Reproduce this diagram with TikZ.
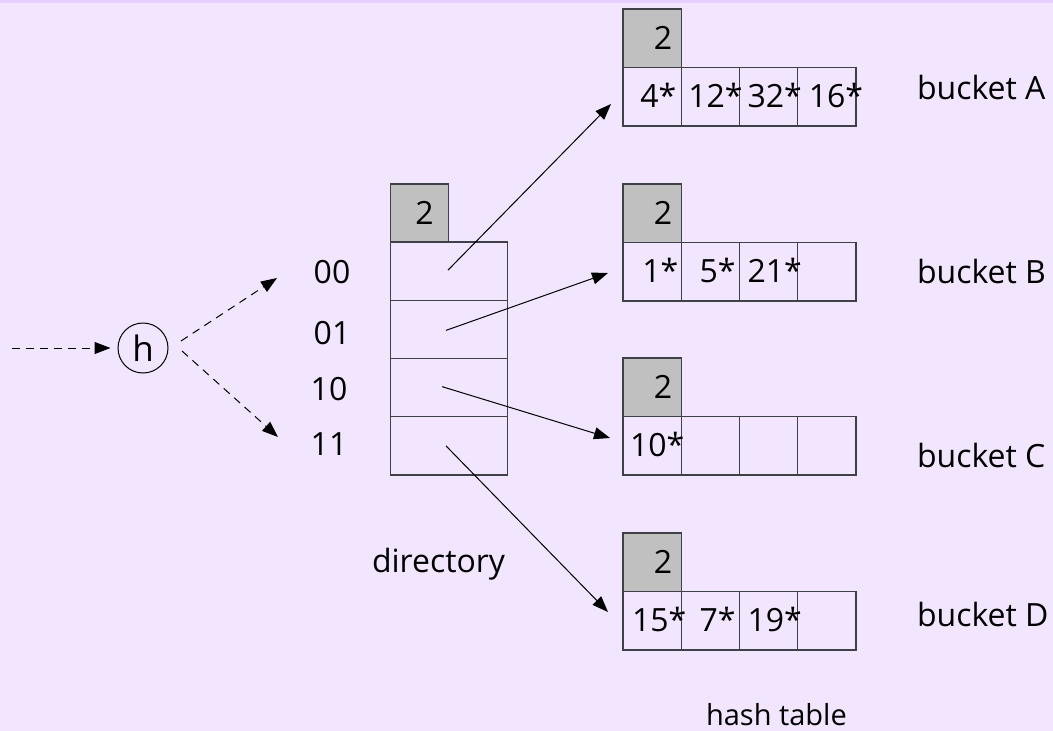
\documentclass[tikz,border=0pt]{standalone}
\usepackage{fontspec}
\setmainfont{Open Sans}
\usetikzlibrary{arrows.meta,calc}
\definecolor{bg}{RGB}{242,230,255}
\definecolor{topband}{RGB}{230,206,255}
\definecolor{boxline}{RGB}{64,64,72}
\definecolor{grayfill}{RGB}{192,192,192}
\begin{document}
\begin{tikzpicture}[x=1pt,y=-1pt,
  font=\fontsize{32}{38}\selectfont,
  cell/.style={draw=boxline,line width=1.2pt,minimum width=58.25pt,minimum height=58.5pt,inner sep=0pt,outer sep=0pt,anchor=north west},
  dcell/.style={cell,minimum width=117pt,minimum height=58.25pt},
  gbox/.style={cell,fill=grayfill},
  txt/.style={inner sep=0pt,outer sep=0pt},
  arr/.style={line width=1pt,-{Triangle[length=16pt,width=12pt]}},
  darr/.style={arr,dash pattern=on 8pt off 6pt},
  hcirc/.style={draw,line width=1pt,circle,minimum size=50pt,inner sep=0pt,font=\fontsize{35}{40}\selectfont}
]
\fill[bg] (0,0) rectangle (1053,731);
\fill[topband] (0,0) rectangle (1053,3);
\useasboundingbox (0,0) rectangle (1053,731);

% buckets
\foreach \b/\t in {A/9,B/184,C/358,D/533}{
  \node[gbox] (\b0) at (623,\t) {};
  \foreach \i in {1,...,4}
    \node[cell] (\b\i) at ({623+58.25*(\i-1)},{\t+58.5}) {};
  \node[txt] (\b2t) at ($(\b0.center)+(11,0)$) {2};
}

% bucket entries
\node[txt,anchor=base east] (a1t) at ($(A1.east)+(-5,11)$) {4*};
\node[txt,anchor=base east] (a2t) at ($(A2.east)+(3,11)$) {12*};
\node[txt,anchor=base east] (a3t) at ($(A3.east)+(4,11)$) {32*};
\node[txt,anchor=base east] (a4t) at ($(A4.east)+(7,11)$) {16*};
\node[txt,anchor=base east] (b1t) at ($(B1.east)+(-3,11)$) {1*};
\node[txt,anchor=base east] (b2t) at ($(B2.east)+(-4,11)$) {5*};
\node[txt,anchor=base east] (b3t) at ($(B3.east)+(4,11)$) {21*};
\node[txt,anchor=base east] (c1t) at ($(C1.east)+(3,11)$) {10*};
\node[txt,anchor=base east] (d1t) at ($(D1.east)+(5,11)$) {15*};
\node[txt,anchor=base east] (d2t) at ($(D2.east)+(-4,11)$) {7*};
\node[txt,anchor=base east] (d3t) at ($(D3.east)+(4,11)$) {19*};

% directory
\node[gbox] (G) at (390.5,184) {};
\node[txt] (Gt) at ($(G.center)+(5,0)$) {2};
\node[dcell] (d00) at (390.5,242) {};
\node[dcell] (d01) at (390.5,300.25) {};
\node[dcell] (d10) at (390.5,358.5) {};
\node[dcell] (d11) at (390.5,416.75) {};

\node[txt] (l00) at (332,272) {00};
\node[txt] (l01) at (332,333) {01};
\node[txt] (l10) at (329,389) {10};
\node[txt] (l11) at (329,444) {11};

% labels
\node[txt,anchor=base west] (bA) at (917,99) {bucket A};
\node[txt,anchor=base west] (bB) at (917,283) {bucket B};
\node[txt,anchor=base west] (bC) at (917,467) {bucket C};
\node[txt,anchor=base west] (bD) at (917,626) {bucket D};
\node[txt,anchor=base west] (dir) at (372,572) {directory};
\node[txt,anchor=base west,font=\fontsize{29}{34}\selectfont] (ht) at (706,725) {hash table};

% pointers
\coordinate (tA) at (611,104);
\coordinate (tB) at (608,273);
\coordinate (tC) at (610,438);
\coordinate (tD) at (608,612);
\draw[arr] ($(d00.center)+(-1,-1)$) -- (tA);
\draw[arr] ($(d01.center)+(-3,1)$) -- (tB);
\draw[arr] ($(d10.center)+(-7,-1)$) -- (tC);
\draw[arr] ($(d11.center)+(-3,0)$) -- (tD);

% hash function
\node[hcirc] (h) at (143,348) {h};
\coordinate (in) at (12,348);
\coordinate (up0) at (181,341);
\coordinate (up1) at (277,278);
\coordinate (lo0) at (182,351);
\coordinate (lo1) at (278,437);
\draw[darr,shorten >=7pt] (in) -- (h.west);
\draw[darr] (up0) -- (up1);
\draw[darr] (lo0) -- (lo1);
\end{tikzpicture}
\end{document}
